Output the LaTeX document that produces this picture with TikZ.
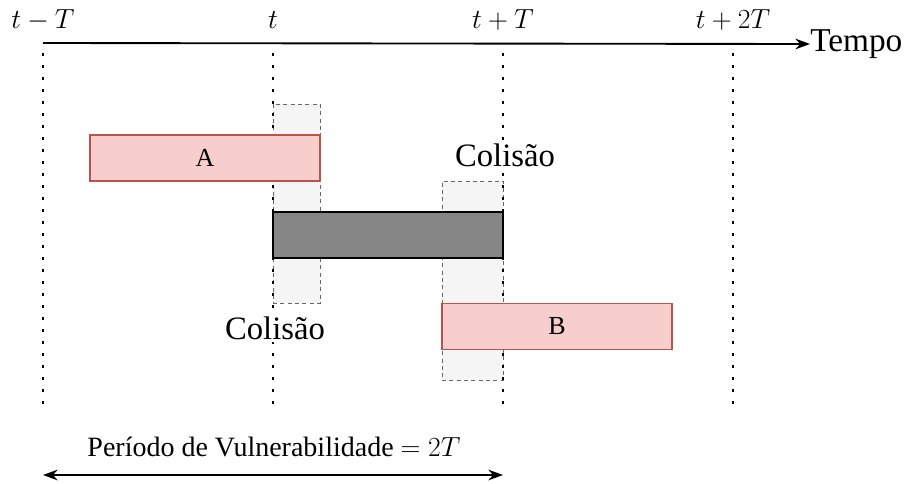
\documentclass[tikz,border=0pt]{standalone}
\usepackage{fontspec}
\setmainfont{Liberation Serif}
\usetikzlibrary{arrows.meta}
\definecolor{redfill}{HTML}{F8CECC}
\definecolor{redline}{HTML}{B85450}
\definecolor{greyfill}{HTML}{F5F5F5}
\definecolor{greyline}{HTML}{666666}
\definecolor{darkbar}{HTML}{858585}
\begin{document}
\begin{tikzpicture}[x=0.75pt,y=-0.75pt,
  msgbox/.style={draw=redline, fill=redfill, line width=0.9pt, minimum width=172.5pt, minimum height=34.5pt, inner sep=0pt, font=\fontsize{19.5}{22}\selectfont},
  barbox/.style={draw=black, fill=darkbar, line width=1.1pt, minimum width=172.5pt, minimum height=34.5pt, inner sep=0pt},
  winbox/.style={draw=greyline, fill=greyfill, dash pattern=on 3pt off 2.5pt, line width=0.75pt, minimum height=149.25pt, inner sep=0pt},
  tick/.style={font=\fontsize{22}{26}\selectfont, inner sep=0pt},
  guide/.style={line width=1.9pt, dash pattern=on 1.9pt off 7.1pt},
  colbox/.style={fill=white, inner sep=2pt, font=\fontsize{24.5}{28}\selectfont},
  axisline/.style={line width=1.4pt, -{Stealth[length=11pt,width=8pt]}},
  spanline/.style={line width=1.4pt, {Stealth[length=11pt,width=8pt]}-{Stealth[length=11pt,width=8pt]}}
]
\useasboundingbox (0,0) rectangle (904,483);

% windows of collision
\node[winbox, minimum width=35.25pt] (w1) at (296.5,203.5) {};
\node[winbox, minimum width=45.75pt] (w2) at (472.5,280.5) {};

% guides
\foreach \n/\x in {g0/43, g1/273, g2/503, g3/733}{
  \coordinate (\n top) at (\x,53);
  \coordinate (\n bot) at (\x,412);
  \draw[guide] (\n top) -- (\n bot);
}

% frames
\node[msgbox] (A) at (205,158) {A};
\node[barbox] (bar) at (388,235) {};
\node[msgbox] (B) at (557,326.5) {B};

% axis
\coordinate (axstart) at (43,43);
\node[anchor=west, inner sep=0pt, font=\fontsize{25}{29}\selectfont] (tempo) at (810,44) {Tempo};
\draw[axisline] (axstart) -- (tempo.west);

\node[tick] (l0) at (43,20) {$t-T$};
\node[tick] (l1) at (273,20) {$t$};
\node[tick] (l2) at (503,20) {$t+T$};
\node[tick] (l3) at (733,20) {$t+2T$};

% collision labels
\node[colbox] (c1) at (505,155) {Colisão};
\node[colbox] (c2) at (275,328) {Colisão};

% vulnerability period
\node[font=\fontsize{21}{25}\selectfont, inner sep=0pt] (period) at (274,447) {Período de Vulnerabilidade $=2T$};
\coordinate (pl) at (43,475);
\coordinate (pr) at (503,475);
\draw[spanline] (pl) -- (pr);
\end{tikzpicture}
\end{document}
